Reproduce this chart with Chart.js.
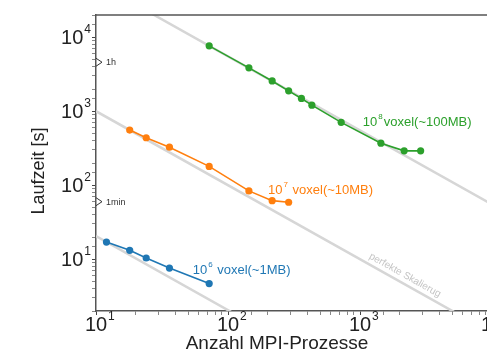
<!DOCTYPE html>
<html>
<head>
<meta charset="utf-8">
<script src="https://cdn.jsdelivr.net/npm/chart.js@4/dist/chart.umd.min.js"></script>
<style>
  html, body { margin: 0; padding: 0; overflow: hidden; background: #fff; }
</style>
</head>
<body>
<canvas id="scalingChart" width="520" height="356"></canvas>
<script>
// values (log-log strong scaling plot)
const procs1MB = [12, 18, 24, 36, 72];
const time1MB = [17.1, 13.2, 10.4, 7.6, 4.7];

const procs10MB = [18, 24, 36, 72, 144, 216, 288];
const time10MB = [557, 439, 327, 180, 84, 62, 59];

const procs100MB = [72, 144, 216, 288, 360, 432, 720, 1440, 2160, 2880];
const time100MB = [7660, 3860, 2570, 1890, 1490, 1210, 708, 371, 292, 292];

const seriesExp = ['6', '7', '8'];
const seriesText = [' voxel(~1MB)', ' voxel(~10MB)', 'voxel(~100MB)'];
const seriesColors = ['#1f77b4', '#ff7f0e', '#2ca02c'];

const xTickPowers = [1, 2, 3, 4];
const yTickPowers = [1, 2, 3, 4];

const markerLabels = ['1h', '1min'];
const markerValues = [4600, 60];

const FONT = '"Liberation Sans", Arial, Helvetica, sans-serif';

const toPoints = (xs, ys) => xs.map((x, i) => ({ x: x, y: ys[i] }));

// ideal line y = C / x through the first measurement
const idealLine = (xs, ys) => {
  const c = xs[0] * ys[0];
  return [{ x: 10, y: c / 10 }, { x: 10000, y: c / 10000 }];
};

const series = [
  { xs: procs1MB, ys: time1MB },
  { xs: procs10MB, ys: time10MB },
  { xs: procs100MB, ys: time100MB }
];

const datasets = [];
series.forEach((s) => {
  datasets.push({
    data: idealLine(s.xs, s.ys),
    borderColor: '#d6d6d6',
    borderWidth: 2.5,
    pointRadius: 0,
    order: 5
  });
});
series.forEach((s, i) => {
  datasets.push({
    data: toPoints(s.xs, s.ys),
    borderColor: seriesColors[i],
    backgroundColor: seriesColors[i],
    borderWidth: 1.6,
    pointRadius: 3.6,
    pointBorderWidth: 0,
    order: 1
  });
});

// where the series labels sit (data coordinates)
const labelAnchors = [{ x: 54, y: 7.1 }, { x: 201, y: 85 }, { x: 1050, y: 708 }];

const isPow10 = (v) => Math.abs(Math.log10(v) - Math.round(Math.log10(v))) < 1e-6;

function powWidth(ctx, base, exp, size) {
  ctx.font = size + 'px ' + FONT;
  const w1 = ctx.measureText(base).width;
  ctx.font = Math.round(size * 0.6) + 'px ' + FONT;
  return w1 + ctx.measureText(exp).width + 1;
}

function drawPow(ctx, base, exp, x, y, size, color) {
  ctx.fillStyle = color;
  ctx.textAlign = 'left';
  ctx.textBaseline = 'middle';
  ctx.font = size + 'px ' + FONT;
  ctx.fillText(base, x, y);
  const w1 = ctx.measureText(base).width;
  ctx.font = Math.round(size * 0.6) + 'px ' + FONT;
  ctx.fillText(exp, x + w1 + 1, y - size * 0.42);
  return x + w1 + 1 + ctx.measureText(exp).width;
}

const decorations = {
  id: 'decorations',
  afterDraw(chart) {
    const ctx = chart.ctx;
    const xs = chart.scales.x;
    const ys = chart.scales.y;
    const area = chart.chartArea;
    ctx.save();

    // top frame line
    ctx.strokeStyle = '#555';
    ctx.lineWidth = 1.5;
    ctx.beginPath();
    ctx.moveTo(area.left, area.top);
    ctx.lineTo(area.right, area.top);
    ctx.stroke();

    // y tick labels
    yTickPowers.forEach((p) => {
      const py = ys.getPixelForValue(Math.pow(10, p));
      const w = powWidth(ctx, '10', String(p), 20);
      drawPow(ctx, '10', String(p), area.left - 5 - w, py + 1, 20, '#222');
    });

    // x tick labels
    xTickPowers.forEach((p) => {
      const px = xs.getPixelForValue(Math.pow(10, p));
      ctx.font = '20px ' + FONT;
      const wb = ctx.measureText('10').width;
      drawPow(ctx, '10', String(p), px - wb / 2, area.bottom + 14, 20, '#222');
    });

    // axis titles
    ctx.fillStyle = '#222';
    ctx.textAlign = 'center';
    ctx.textBaseline = 'middle';
    ctx.font = '19px ' + FONT;
    ctx.fillText('Anzahl MPI-Prozesse', 277, area.bottom + 33);
    ctx.save();
    ctx.translate(39, 171);
    ctx.rotate(-Math.PI / 2);
    ctx.font = '18px ' + FONT;
    ctx.fillText('Laufzeit [s]', 0, 0);
    ctx.restore();

    // time markers on the y axis
    markerLabels.forEach((lab, i) => {
      const py = ys.getPixelForValue(markerValues[i]);
      ctx.strokeStyle = '#333';
      ctx.lineWidth = 1;
      ctx.beginPath();
      ctx.moveTo(area.left, py - 4);
      ctx.lineTo(area.left + 6, py);
      ctx.lineTo(area.left, py + 4);
      ctx.stroke();
      ctx.fillStyle = '#333';
      ctx.textAlign = 'left';
      ctx.font = '9px ' + FONT;
      ctx.fillText(lab, area.left + 10, py + 0.5);
    });

    // series labels
    labelAnchors.forEach((a, i) => {
      const px = xs.getPixelForValue(a.x);
      const py = ys.getPixelForValue(a.y);
      const endX = drawPow(ctx, '10', seriesExp[i], px, py, 13, seriesColors[i]);
      ctx.font = '13px ' + FONT;
      ctx.textBaseline = 'middle';
      ctx.fillText(seriesText[i], endX + 1, py);
    });

    // label along the middle ideal line
    const c = procs10MB[0] * time10MB[0];
    const ax = 2046;
    const p1x = xs.getPixelForValue(ax), p1y = ys.getPixelForValue(c / ax);
    const p2x = xs.getPixelForValue(ax * 2), p2y = ys.getPixelForValue(c / (ax * 2));
    const ang = Math.atan2(p2y - p1y, p2x - p1x);
    ctx.translate(p1x, p1y);
    ctx.rotate(ang);
    ctx.fillStyle = '#c4c4c4';
    ctx.textAlign = 'center';
    ctx.textBaseline = 'bottom';
    ctx.font = '10px ' + FONT;
    ctx.fillText('perfekte Skalierug', 0, -3);

    ctx.restore();
  }
};

const tickCol = (c) => (c.tick && isPow10(c.tick.value) ? '#444' : '#888');

new Chart(document.getElementById('scalingChart'), {
  type: 'line',
  data: { datasets: datasets },
  options: {
    responsive: false,
    animation: false,
    layout: { padding: { top: 15, right: 28, left: 0, bottom: 0 } },
    plugins: { legend: { display: false }, tooltip: { enabled: false } },
    scales: {
      x: {
        type: 'logarithmic',
        min: 10,
        max: 10000,
        afterFit: (s) => { s.height = 45; },
        ticks: { display: false },
        grid: { drawOnChartArea: false, tickLength: 4, tickColor: tickCol },
        border: { color: '#555', width: 1.5 }
      },
      y: {
        type: 'logarithmic',
        min: 2,
        max: 20000,
        afterFit: (s) => { s.width = 96; },
        ticks: { display: false },
        grid: { drawOnChartArea: false, tickLength: 4, tickColor: tickCol },
        border: { color: '#555', width: 1.5 }
      }
    }
  },
  plugins: [decorations]
});
</script>
</body>
</html>
